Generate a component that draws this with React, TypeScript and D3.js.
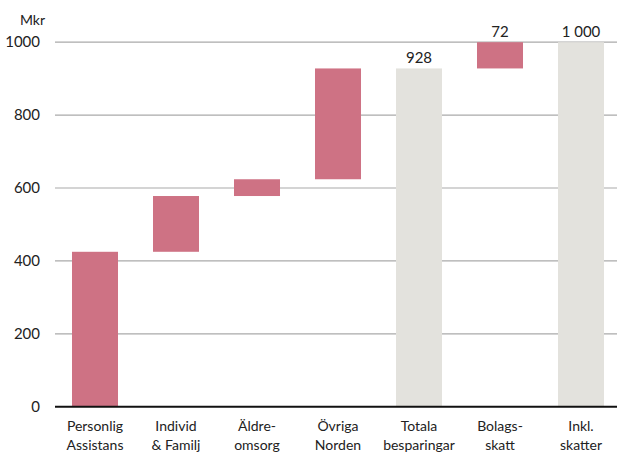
import React from "react";
import * as d3 from "d3";

const categories = [
  ["Personlig", "Assistans"],
  ["Individ", "& Familj"],
  ["Äldre-", "omsorg"],
  ["Övriga", "Norden"],
  ["Totala", "besparingar"],
  ["Bolags-", "skatt"],
  ["Inkl.", "skatter"],
];
const deltas = [425, 153, 46, 304, 928, 72, 1000];
const kinds = ["step", "step", "step", "step", "total", "step", "total"];
const valueLabels = ["", "", "", "", "928", "72", "1 000"];
const yTicks = [0, 200, 400, 600, 800, 1000];

const W = 617;
const H = 452;
const PINK = "#ce7284";
const GREY = "#e3e2dd";
const FONT = "'Century Gothic', 'URW Gothic', Lato, 'DejaVu Sans', sans-serif";

export default function App() {
  const x = d3
    .scaleBand<number>()
    .domain(d3.range(categories.length))
    .range([54.5, 621.5])
    .paddingInner(0.432)
    .paddingOuter(0.216);
  const y = d3.scaleLinear().domain([0, 1000]).range([406.7, 42.2]);

  let running = 0;
  const bars = deltas.map((d, i) => {
    let lo: number, hi: number;
    if (kinds[i] === "total") {
      lo = 0;
      hi = d;
      running = d;
    } else {
      lo = running;
      hi = running + d;
      running = hi;
    }
    return { i, lo, hi };
  });

  return (
    <svg
      width={W}
      height={H}
      style={{ position: "absolute", left: 0, top: 0, background: "#fff" }}
      fontFamily={FONT}
    >
      <text x={45} y={25} fontSize={14} textAnchor="end" fill="#222">
        Mkr
      </text>
      {yTicks.map((t) => (
        <g key={t}>
          {t !== 0 && (
            <line x1={55} x2={W} y1={y(t)} y2={y(t)} stroke="#aaa" strokeWidth={1.2} />
          )}
          <text
            x={40}
            y={y(t) + 5}
            fontSize={15}
            textAnchor="end"
            fill="#222"
          >
            {t}
          </text>
        </g>
      ))}
      {bars.map((b) => (
        <rect
          key={b.i}
          x={x(b.i)}
          width={x.bandwidth()}
          y={y(b.hi)}
          height={y(b.lo) - y(b.hi)}
          fill={kinds[b.i] === "total" ? GREY : PINK}
        />
      ))}
      {bars.map((b) =>
        valueLabels[b.i] ? (
          <text
            key={"v" + b.i}
            x={(x(b.i) as number) + x.bandwidth() / 2}
            y={y(b.hi) - 5}
            fontSize={15}
            textAnchor="middle"
            fill="#222"
          >
            {valueLabels[b.i]}
          </text>
        ) : null
      )}
      <line x1={55} x2={W} y1={y(0)} y2={y(0)} stroke="#111" strokeWidth={2} />
      {categories.map((c, i) => (
        <text
          key={"c" + i}
          x={(x(i) as number) + x.bandwidth() / 2}
          fontSize={14}
          textAnchor="middle"
          fill="#222"
        >
          <tspan x={(x(i) as number) + x.bandwidth() / 2} y={431}>
            {c[0]}
          </tspan>
          <tspan x={(x(i) as number) + x.bandwidth() / 2} y={450}>
            {c[1]}
          </tspan>
        </text>
      ))}
    </svg>
  );
}
